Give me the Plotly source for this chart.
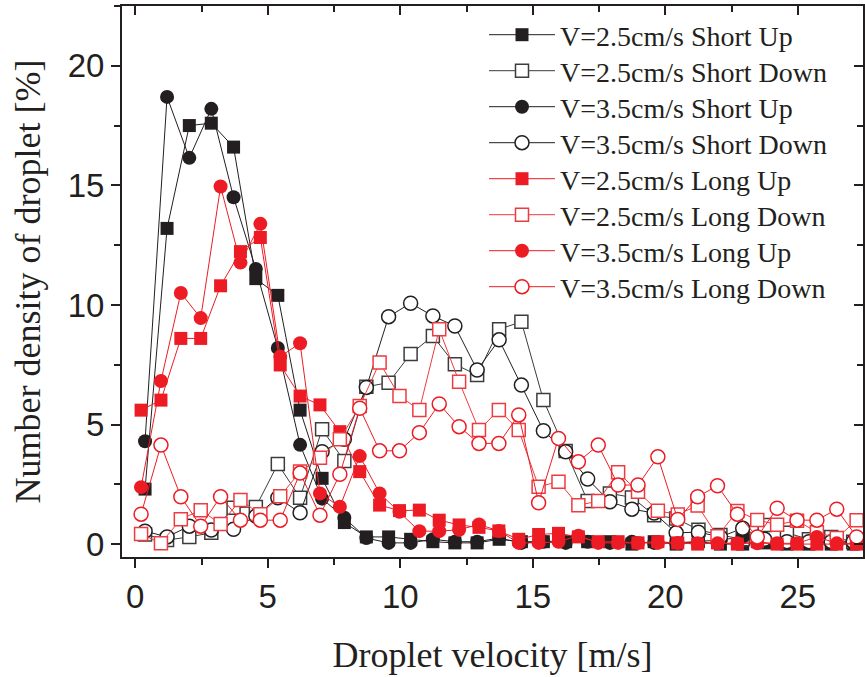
import plotly.graph_objects as go

# Velocity bins (m/s)
x_short = [0.37, 1.20, 2.04, 2.87, 3.71, 4.55, 5.38, 6.22, 7.05, 7.89, 8.72, 9.56, 10.39,
           11.23, 12.06, 12.90, 13.73, 14.57, 15.40, 16.24, 17.07, 17.91, 18.74, 19.58,
           20.41, 21.25, 22.08, 22.92, 23.75, 24.59, 25.42, 26.26, 27.09]
x_long = [0.22, 0.97, 1.72, 2.47, 3.22, 3.97, 4.72, 5.47, 6.22, 6.97, 7.72, 8.47, 9.22,
          9.97, 10.72, 11.47, 12.22, 12.97, 13.72, 14.47, 15.22, 15.97, 16.72, 17.47,
          18.22, 18.97, 19.72, 20.47, 21.22, 21.97, 22.72, 23.47, 24.22, 24.97, 25.72,
          26.47, 27.22]

v25_short_up = [2.3, 13.2, 17.5, 17.6, 16.6, 11.1, 10.4, 5.6, 2.75, 0.9, 0.3, 0.3, 0.2, 0.1,
                0.05, 0.05, 0.2, 0.1, 0.1, 0.1, 0.1, 0.1, 0.0, 0.1, 0.0, 0.1, 0.0, 0.0,
                0.05, 0.0, 0.0, 0.0, 0.0]
v25_short_down = [0.4, 0.17, 0.3, 0.47, 1.52, 1.55, 3.35, 1.94, 4.8, 3.47, 6.58, 6.75, 7.95,
                  8.7, 7.52, 7.07, 8.98, 9.3, 6.02, 3.89, 1.8, 2.12, 1.95, 1.21, 1.07, 0.6,
                  0.38, 0.2, 0.8, 0.47, 0.2, 0.3, 0.1]
v35_short_up = [4.3, 18.7, 16.15, 18.2, 14.5, 11.5, 8.2, 4.15, 1.9, 1.1, 0.25, 0.05, 0.05,
                0.2, 0.1, 0.1, 0.25, 0.05, 0.1, 0.05, 0.1, 0.05, 0.1, 0.05, 0.05, 0.1,
                0.17, 0.3, 0.17, 0.05, 0.05, 0.05, 0.05]
v35_short_down = [0.54, 0.3, 0.75, 0.59, 0.62, 1.17, 1.94, 1.31, 3.86, 4.38, 6.55, 9.51,
                  10.07, 9.54, 9.12, 7.28, 8.54, 6.65, 4.74, 3.86, 2.72, 1.77, 1.46, 1.3,
                  0.47, 0.5, 0.3, 0.66, 0.2, 0.1, 0.1, 0.1, 0.1]
v25_long_up = [5.6, 6.02, 8.6, 8.6, 10.8, 12.23, 12.82, 7.49, 6.19, 5.82, 4.7, 3.03, 1.63,
               1.4, 1.42, 1.0, 0.8, 0.7, 0.55, 0.2, 0.4, 0.45, 0.3, 0.1, 0.1, 0.05, 0.1,
               0.05, 0.0, 0.05, 0.0, 0.1, 0.0, 0.0, 0.0, 0.0, 0.0]
v25_long_down = [0.42, 0.04, 1.04, 1.42, 0.84, 1.84, 1.25, 2.0, 3.03, 3.61, 4.38, 5.77, 7.59,
                 6.19, 5.61, 8.98, 6.79, 4.77, 5.61, 4.77, 2.4, 2.61, 1.62, 1.8, 3.0, 2.19,
                 1.39, 1.24, 1.61, 0.33, 1.38, 1.01, 0.81, 0.98, 0.5, 0.25, 1.0]
v35_long_up = [2.38, 6.82, 10.5, 9.45, 14.95, 11.77, 13.39, 7.84, 8.4, 2.12, 1.56, 3.68,
               2.12, 1.35, 0.54, 0.54, 0.6, 0.82, 0.55, 0.05, 0.05, 0.1, 0.35, 0.05, 0.05,
               0.05, 0.05, 0.05, 0.03, 0.03, 0.03, 0.03, 0.03, 0.03, 0.3, 0.03, 0.03]
v35_long_down = [1.25, 4.14, 1.98, 0.75, 1.98, 1.0, 1.0, 1.0, 2.97, 1.21, 2.92, 5.68, 3.9,
                 3.9, 4.66, 5.86, 4.91, 4.21, 4.21, 5.4, 1.73, 4.42, 3.44, 4.14, 2.47, 2.47,
                 3.65, 1.03, 1.98, 2.44, 1.25, 0.3, 1.5, 1.0, 1.0, 1.46, 0.3]

series_names = ["V=2.5cm/s Short Up", "V=2.5cm/s Short Down", "V=3.5cm/s Short Up",
                "V=3.5cm/s Short Down", "V=2.5cm/s Long Up", "V=2.5cm/s Long Down",
                "V=3.5cm/s Long Up", "V=3.5cm/s Long Down"]

BLACK = "#231F20"
GREY = "#3C3C3C"
RED = "#ED1C24"
LRED = "#EF3A3F"

specs = [
    (x_short, v25_short_up, "square", BLACK, BLACK, 13),
    (x_short, v25_short_down, "square", "white", GREY, 13),
    (x_short, v35_short_up, "circle", BLACK, BLACK, 14),
    (x_short, v35_short_down, "circle", "white", BLACK, 14),
    (x_long, v25_long_up, "square", RED, RED, 13),
    (x_long, v25_long_down, "square", "white", LRED, 13),
    (x_long, v35_long_up, "circle", RED, RED, 14),
    (x_long, v35_long_down, "circle", "white", RED, 14),
]

# plot area in pixels
L, R, T, B = 122, 2, 6, 120
W, H = 865, 677
PW, PH = W - L - R, H - T - B

legend_font = dict(family="Liberation Serif, Times New Roman", size=28, color=BLACK)

fig = go.Figure()
legends = {}
for i, (name, (xs, ys, sym, fill, col, sz)) in enumerate(zip(series_names, specs)):
    lg = "legend" if i == 0 else f"legend{i + 1}"
    fig.add_trace(go.Scatter(
        x=xs, y=ys, name=name, mode="lines+markers", legend=lg,
        line=dict(color=col, width=1),
        marker=dict(symbol=sym, size=sz, color=fill,
                    line=dict(color=col, width=1.5 if fill == "white" else 0)),
    ))
    row_px = 35 + 36 * i
    legends[lg] = dict(x=(484 - L) / PW, y=(H - B - row_px) / PH,
                       xanchor="left", yanchor="middle",
                       bgcolor="rgba(0,0,0,0)", itemwidth=66,
                       font=legend_font)

# dummy trace to activate the mirrored (top/right) axes
fig.add_trace(go.Scatter(x=[None], y=[None], xaxis="x2", yaxis="y2",
                         showlegend=False, hoverinfo="skip"))

XR = [-0.5, 27.46]
YR = [-0.54, 22.5]
tickfont = dict(family="Liberation Sans, Arial", size=33, color=BLACK)
titlefont = dict(family="Liberation Serif, Times New Roman", size=36, color=BLACK)

common_tick = dict(showgrid=False, zeroline=False, showline=True, linecolor=BLACK,
                   linewidth=2, tickcolor=BLACK, tickwidth=2, ticklen=9, dtick=5, tick0=0,
                   automargin=False)

fig.update_layout(
    width=W, height=H,
    margin=dict(l=L, r=R, t=T, b=B),
    paper_bgcolor="white", plot_bgcolor="white",
    showlegend=True,
    xaxis=dict(range=XR, ticks="outside",
               minor=dict(dtick=2.5, tick0=0, ticks="outside", ticklen=6, tickcolor=BLACK,
                          tickwidth=2),
               tickfont=tickfont,
               title=dict(text="Droplet velocity [m/s]", font=titlefont, standoff=28),
               **common_tick),
    yaxis=dict(range=YR, ticks="outside",
               minor=dict(dtick=2.5, tick0=0, ticks="outside", ticklen=6, tickcolor=BLACK,
                          tickwidth=2),
               tickfont=tickfont,
               title=dict(text="Number density of droplet [%]", font=titlefont, standoff=16),
               **common_tick),
    xaxis2=dict(range=XR, overlaying="x", side="top", anchor="y2", ticks="inside",
                minor=dict(dtick=2.5, tick0=0, ticks="inside", ticklen=6, tickcolor=BLACK,
                           tickwidth=2),
                showticklabels=False, **common_tick),
    yaxis2=dict(range=YR, overlaying="y", side="right", anchor="x2", ticks="inside",
                minor=dict(dtick=2.5, tick0=0, ticks="inside", ticklen=6, tickcolor=BLACK,
                           tickwidth=2),
                showticklabels=False, **common_tick),
    **legends,
)

fig.write_html("out.html", config={"displayModeBar": False},
               post_script="document.body.style.margin='0';")
